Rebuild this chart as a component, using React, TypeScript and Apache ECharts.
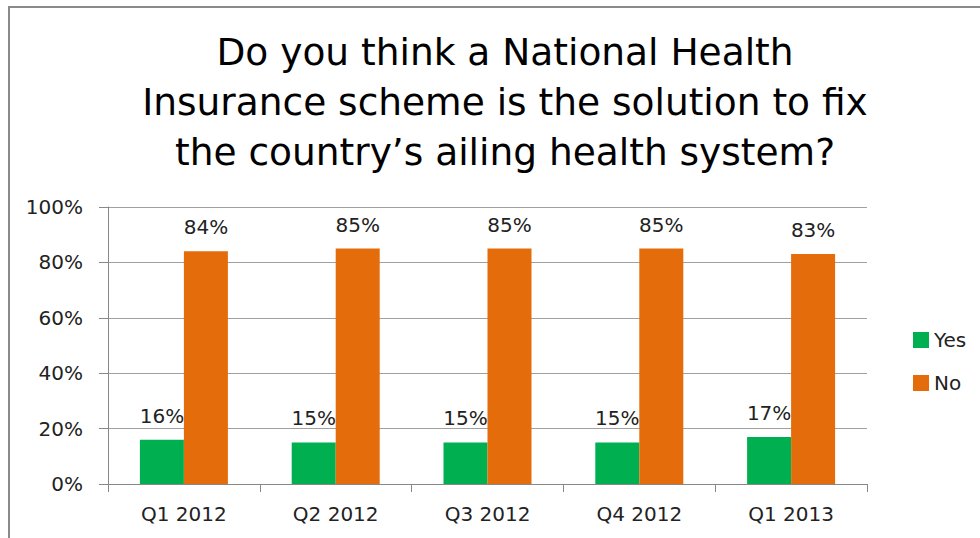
import React, { useEffect, useRef } from "react";
import * as echarts from "echarts";

const categories = ["Q1 2012", "Q2 2012", "Q3 2012", "Q4 2012", "Q1 2013"];
const yesValues = [16, 15, 15, 15, 17];
const noValues = [84, 85, 85, 85, 83];
const titleText = "Do you think a National Health\nInsurance scheme is the solution to fix\nthe country\u2019s ailing health system?";

const FONT = "'DejaVu Sans', sans-serif";

export default function App() {
  const ref = useRef<HTMLDivElement>(null);
  useEffect(() => {
    if (!ref.current) return;
    const chart = echarts.init(ref.current, null, { renderer: "svg" });
    const labelStyle = {
      show: true,
      position: "top" as const,
      distance: 14,
      formatter: "{c}%",
      fontSize: 20,
      color: "#222",
      fontFamily: FONT,
    };
    chart.setOption({
      animation: false,
      backgroundColor: "#fff",
      textStyle: { fontFamily: FONT },
      graphic: [
        {
          type: "polyline",
          shape: { points: [[9, 560], [9, 7], [1000, 7]] },
          style: { stroke: "#8a8a8a", lineWidth: 2, fill: "none" },
          silent: true,
        },
      ],
      title: {
        text: titleText,
        left: 500,
        top: 22,
        textAlign: "center",
        textStyle: {
          fontFamily: FONT,
          fontSize: 37.5,
          fontWeight: "normal",
          color: "#000",
          lineHeight: 50,
        },
      },
      legend: {
        orient: "vertical",
        left: 908,
        top: 325,
        itemWidth: 16,
        itemHeight: 16,
        itemGap: 23,
        icon: "rect",
        textStyle: { fontSize: 20, color: "#222", fontFamily: FONT },
        data: ["Yes", "No"],
      },
      grid: { left: 108, right: 113, top: 207, bottom: 54 },
      xAxis: {
        type: "category",
        data: categories,
        axisLine: { show: true, lineStyle: { color: "#888", width: 1 } },
        axisTick: { show: true, length: 8, lineStyle: { color: "#888" } },
        axisLabel: { fontSize: 20, color: "#222", margin: 20, fontFamily: FONT },
      },
      yAxis: {
        type: "value",
        min: 0,
        max: 100,
        interval: 20,
        axisLine: { show: true, lineStyle: { color: "#888", width: 1 } },
        axisTick: { show: true, length: 9, lineStyle: { color: "#888" } },
        axisLabel: { fontSize: 20, color: "#222", margin: 25, formatter: "{value}%", fontFamily: FONT },
        splitLine: { show: true, lineStyle: { color: "#a0a0a0", width: 1 } },
      },
      series: [
        {
          name: "Yes",
          type: "bar",
          data: yesValues,
          barWidth: 44,
          barGap: "0%",
          itemStyle: { color: "#00B050" },
          label: labelStyle,
        },
        {
          name: "No",
          type: "bar",
          data: noValues,
          barWidth: 44,
          barGap: "0%",
          itemStyle: { color: "#E46C0A" },
          label: labelStyle,
        },
      ],
    });
    return () => chart.dispose();
  }, []);
  return (
    <div
      ref={ref}
      style={{ position: "fixed", left: 0, top: 0, width: 980, height: 538 }}
    />
  );
}
